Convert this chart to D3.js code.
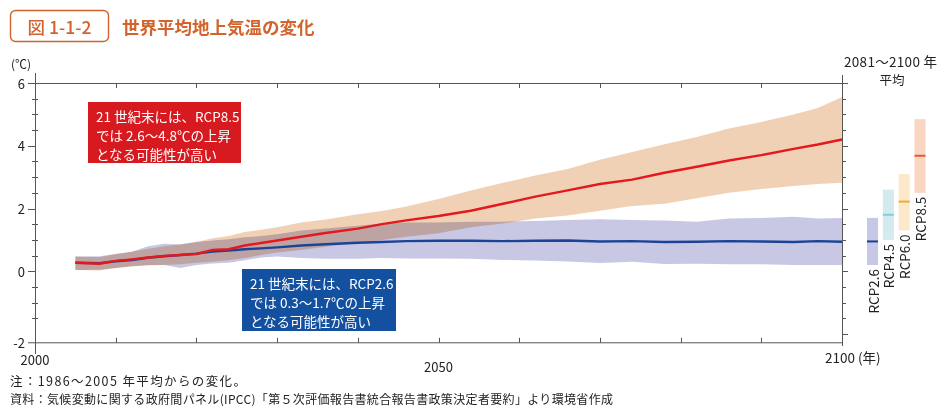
<!DOCTYPE html>
<html><head><meta charset="utf-8">
<script src="https://cdn.jsdelivr.net/npm/d3@7"></script>
<style>
html,body{margin:0;padding:0;background:#fff;}
svg{display:block;font-family:"Noto Sans CJK JP","Noto Sans",sans-serif;}
</style></head>
<body>
<svg id="chart" width="947" height="414"></svg>
<script>
// ---- data ----
const years = [2005,2008,2010,2012,2014,2016,2018,2020,2022,2024,2026,2028,2030,2033,2036,2040,2043,2046,2050,2054,2058,2062,2066,2070,2074,2078,2082,2086,2090,2094,2097,2100];
const rcp85Mean  = [0.27,0.24,0.33,0.38,0.44,0.49,0.52,0.55,0.68,0.70,0.82,0.90,0.98,1.10,1.22,1.36,1.50,1.62,1.76,1.93,2.15,2.38,2.58,2.78,2.92,3.14,3.33,3.53,3.70,3.90,4.04,4.20];
const rcp85Upper = [0.47,0.45,0.55,0.62,0.72,0.80,0.86,0.93,1.05,1.12,1.25,1.32,1.40,1.55,1.65,1.82,1.92,2.06,2.30,2.57,2.82,3.05,3.26,3.55,3.80,4.05,4.28,4.55,4.76,5.00,5.20,5.55];
const rcp85Lower = [0.04,0.02,0.10,0.15,0.18,0.20,0.22,0.27,0.30,0.35,0.42,0.52,0.60,0.68,0.78,0.90,1.00,1.10,1.21,1.40,1.52,1.68,1.78,1.93,2.08,2.15,2.33,2.50,2.62,2.72,2.78,2.82];
const rcp26Mean  = [0.27,0.26,0.32,0.36,0.43,0.48,0.52,0.56,0.63,0.66,0.70,0.73,0.76,0.82,0.86,0.91,0.93,0.96,0.97,0.97,0.96,0.97,0.98,0.95,0.96,0.93,0.94,0.96,0.95,0.93,0.96,0.94];
const rcp26Upper = [0.47,0.48,0.55,0.62,0.80,0.88,0.85,0.93,0.98,1.02,1.08,1.12,1.18,1.30,1.36,1.45,1.52,1.55,1.55,1.58,1.58,1.60,1.63,1.66,1.63,1.62,1.58,1.68,1.70,1.74,1.68,1.70];
const rcp26Lower = [0.04,0.05,0.10,0.16,0.20,0.20,0.10,0.20,0.25,0.27,0.35,0.44,0.47,0.42,0.40,0.40,0.42,0.41,0.41,0.40,0.36,0.34,0.31,0.26,0.30,0.23,0.24,0.22,0.22,0.20,0.20,0.20];

const scenarios   = ["RCP2.6","RCP4.5","RCP6.0","RCP8.5"];
const scenLow     = [0.2,1.0,1.3,2.5];
const scenMid     = [0.95,1.8,2.22,3.68];
const scenHigh    = [1.7,2.6,3.1,4.85];

const yTickValues = [6,4,2,0];
const xTickLabels = ["2000","2050","2100 (年)"];

// ---- styles ----
const orange = "#d2632c";
const axisColor = "#555";
const bandFill = {"RCP2.6":"#c7c8e6","RCP4.5":"#d3eaee","RCP6.0":"#fde8c9","RCP8.5":"#f9d6c2"};
const midFill  = {"RCP2.6":"#1b3f8f","RCP4.5":"#82cfe2","RCP6.0":"#f6a836","RCP8.5":"#e85c2c"};

const svg = d3.select("#chart");
const x = d3.scaleLinear().domain([2000,2100]).range([35,842]);
const y = d3.scaleLinear().domain([-2,6]).range([334,83]);
const yBottom = y(-2.28);

// title
svg.append("rect").attr("x",10.5).attr("y",10.5).attr("width",98).attr("height",31).attr("rx",5)
  .attr("fill","#fff").attr("stroke",orange).attr("stroke-width",1.4);
svg.append("text").attr("x",59.5).attr("y",26).attr("text-anchor","middle").attr("dominant-baseline","central")
  .attr("fill",orange).attr("font-size",17.5).attr("font-weight",500).text("図 1-1-2");
svg.append("text").attr("x",122).attr("y",26).attr("dominant-baseline","central")
  .attr("fill",orange).attr("font-size",17.5).attr("font-weight","bold").text("世界平均地上気温の変化");

// bands
const rows = years.map((yr,i)=>({yr, m85:rcp85Mean[i], u85:rcp85Upper[i], l85:rcp85Lower[i], m26:rcp26Mean[i], u26:rcp26Upper[i], l26:rcp26Lower[i]}));
const area26 = d3.area().x(d=>x(d.yr)).y0(d=>y(d.l26)).y1(d=>y(d.u26));
const area85 = d3.area().x(d=>x(d.yr)).y0(d=>y(d.l85)).y1(d=>y(d.u85));
svg.append("path").datum(rows).attr("d",area26).attr("fill","#c8c8e5");
svg.append("path").datum(rows).attr("d",area85).attr("fill","#f1d1b5").style("mix-blend-mode","multiply");
const line26 = d3.line().x(d=>x(d.yr)).y(d=>y(d.m26));
const line85 = d3.line().x(d=>x(d.yr)).y(d=>y(d.m85));
svg.append("path").datum(rows).attr("d",line26).attr("fill","none").attr("stroke","#1c4496").attr("stroke-width",2.4);
svg.append("path").datum(rows).attr("d",line85).attr("fill","none").attr("stroke","#e3191e").attr("stroke-width",2.4);

// frame
const g = svg.append("g").attr("stroke",axisColor).attr("stroke-width",1).attr("fill","none");
g.append("line").attr("x1",x(2000)).attr("x2",x(2100)).attr("y1",y(6)+0.5).attr("y2",y(6)+0.5);
g.append("line").attr("x1",x(2000)).attr("x2",x(2100)).attr("y1",yBottom).attr("y2",yBottom);
g.append("line").attr("x1",x(2000)+0.5).attr("x2",x(2000)+0.5).attr("y1",73).attr("y2",354);
g.append("line").attr("x1",x(2100)+0.5).attr("x2",x(2100)+0.5).attr("y1",75).attr("y2",346);
const decades = d3.range(2010,2100,10);
decades.forEach(d=>{
  g.append("line").attr("x1",Math.round(x(d))+0.5).attr("x2",Math.round(x(d))+0.5).attr("y1",y(6)).attr("y2",y(6)+5);
  g.append("line").attr("x1",Math.round(x(d))+0.5).attr("x2",Math.round(x(d))+0.5).attr("y1",yBottom).attr("y2",yBottom-5);
});
// y minor ticks (left and right)
d3.range(-2,6.01,0.5).forEach(v=>{
  const yy = Math.round(y(v))+0.5;
  if (v!==6 && Number.isInteger(v/2)===false) g.append("line").attr("x1",x(2000)-3).attr("x2",x(2000)+3).attr("y1",yy).attr("y2",yy);
  g.append("line").attr("x1",x(2100)).attr("x2",x(2100)+(Number.isInteger(v/2)?6:4)).attr("y1",yy).attr("y2",yy);
});
yTickValues.forEach(v=>{
  const yy = Math.round(y(v))+0.5;
  g.append("line").attr("x1",x(2000)-7).attr("x2",x(2000)).attr("y1",yy).attr("y2",yy);
});
g.append("line").attr("x1",x(2000)-7).attr("x2",x(2000)).attr("y1",yBottom).attr("y2",yBottom);

const txt = svg.append("g").attr("fill","#222").attr("font-size",13);
yTickValues.forEach(v=>{
  txt.append("text").attr("x",25).attr("y",y(v)).attr("text-anchor","end").attr("dominant-baseline","central").text(v);
});
txt.append("text").attr("x",25).attr("y",yBottom).attr("text-anchor","end").attr("dominant-baseline","central").text("-2");
txt.append("text").attr("x",11).attr("y",63).attr("dominant-baseline","central").attr("font-size",12).text("(℃)");
txt.append("text").attr("x",x(2000)).attr("y",359).attr("text-anchor","middle").attr("dominant-baseline","central").text(xTickLabels[0]);
txt.append("text").attr("x",x(2050)).attr("y",366).attr("text-anchor","middle").attr("dominant-baseline","central").text(xTickLabels[1]);
txt.append("text").attr("x",x(2100)-17).attr("y",357).attr("dominant-baseline","central").attr("font-size",13.5).text(xTickLabels[2]);

// right header
txt.append("text").attr("x",844).attr("y",61).attr("dominant-baseline","central").attr("font-size",13.5)
  .attr("textLength",93).attr("lengthAdjust","spacing").text("2081～2100 年");
txt.append("text").attr("x",892).attr("y",79).attr("text-anchor","middle").attr("dominant-baseline","central").attr("font-size",12.5).text("平均");

// scenario bars
const xs = d3.scalePoint().domain(scenarios).range([872.5,920]);
const bw = 11;
scenarios.forEach((s,i)=>{
  const cx = xs(s);
  svg.append("rect").attr("x",cx-bw/2).attr("width",bw).attr("y",y(scenHigh[i])).attr("height",y(scenLow[i])-y(scenHigh[i])).attr("fill",bandFill[s]);
  svg.append("line").attr("x1",cx-bw/2).attr("x2",cx+bw/2).attr("y1",y(scenMid[i])).attr("y2",y(scenMid[i])).attr("stroke",midFill[s]).attr("stroke-width",2);
  svg.append("text").attr("transform",`translate(${cx},${y(scenLow[i])+4}) rotate(-90)`)
    .attr("text-anchor","end").attr("dominant-baseline","central").attr("font-size",13.5).attr("fill","#222").text(s);
});

// annotation boxes
function note(x0,y0,w,h,fill,lines){
  svg.append("rect").attr("x",x0).attr("y",y0).attr("width",w).attr("height",h).attr("fill",fill);
  lines.forEach((l,i)=>{
    svg.append("text").attr("x",x0+8).attr("y",y0+14+i*19).attr("dominant-baseline","central")
      .attr("fill","#fff").attr("font-size",13.5).text(l);
  });
}
note(88,102,153,61,"#d71a1f",["21 世紀末には、RCP8.5","では 2.6～4.8℃の上昇","となる可能性が高い"]);
note(242,269,154,62,"#1450a0",["21 世紀末には、RCP2.6","では 0.3～1.7℃の上昇","となる可能性が高い"]);

// footer
const foot = svg.append("g").attr("fill","#222");
foot.append("text").attr("x",10).attr("y",380).attr("dominant-baseline","central").attr("font-size",12.5)
  .attr("textLength",236).attr("lengthAdjust","spacing").text("注：1986～2005 年平均からの変化。");
foot.append("text").attr("x",10).attr("y",398).attr("dominant-baseline","central").attr("font-size",12)
  .attr("textLength",603).attr("lengthAdjust","spacing").text("資料：気候変動に関する政府間パネル(IPCC)「第５次評価報告書統合報告書政策決定者要約」より環境省作成");
</script>
</body></html>
